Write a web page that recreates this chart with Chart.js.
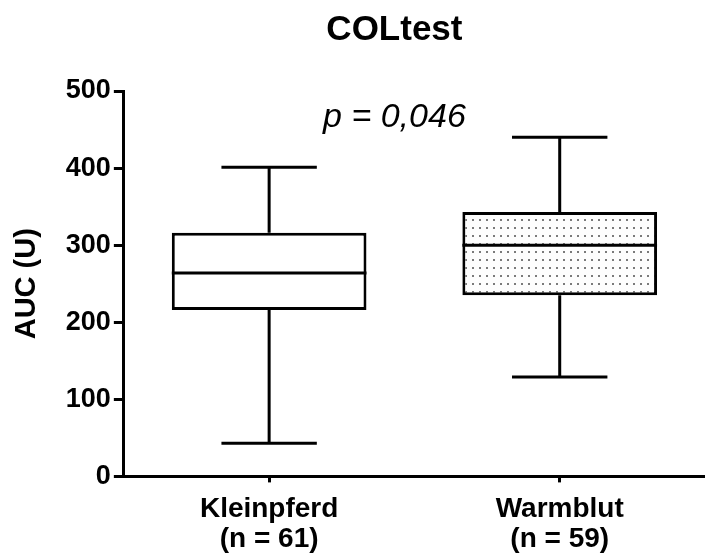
<!DOCTYPE html>
<html>
<head>
<meta charset="utf-8">
<script src="https://cdn.jsdelivr.net/npm/chart.js@4.4.0/dist/chart.umd.min.js"></script>
<style>
body { margin: 0; background: #fff; }
#wrap { width: 705px; height: 559px; }
</style>
</head>
<body>
<div id="wrap"><canvas id="myChart"></canvas></div>
<script>
const categories = [['Kleinpferd', '(n = 61)'], ['Warmblut', '(n = 59)']];
const minValues = [43, 129];
const q1Values = [216, 235];
const medianValues = [264, 300];
const q3Values = [316, 343];
const maxValues = [401, 440];
const yTicks = [0, 100, 200, 300, 400, 500];
const chartTitle = 'COLtest';
const pText = 'p = 0,046';

const FONT = "'Liberation Sans', Arial, sans-serif";

// dotted fill for the second box
function dotPattern() {
    const c = document.createElement('canvas');
    c.width = 7;
    c.height = 8;
    const g = c.getContext('2d');
    g.fillStyle = '#fdfdfd';
    g.fillRect(0, 0, 7, 8);
    g.fillStyle = '#7a7a7a';
    g.fillRect(3, 3, 2, 2);
    return g.createPattern(c, 'repeat');
}

const boxPlugin = {
    id: 'boxParts',
    afterDatasetsDraw(chart) {
        const ctx = chart.ctx;
        const y = chart.scales.y;
        const meta = chart.getDatasetMeta(0);
        ctx.save();
        ctx.strokeStyle = '#000';
        ctx.lineWidth = 3;
        meta.data.forEach(function(bar, i) {
            const x = bar.x;
            const half = bar.width / 2;
            const cap = bar.width * 0.245;
            const yMin = y.getPixelForValue(minValues[i]);
            const yQ1 = y.getPixelForValue(q1Values[i]);
            const yMed = y.getPixelForValue(medianValues[i]);
            const yQ3 = y.getPixelForValue(q3Values[i]);
            const yMax = y.getPixelForValue(maxValues[i]);
            ctx.beginPath();
            // median
            ctx.moveTo(x - half, yMed);
            ctx.lineTo(x + half, yMed);
            // whiskers
            ctx.moveTo(x, yQ3);
            ctx.lineTo(x, yMax);
            ctx.moveTo(x - cap, yMax);
            ctx.lineTo(x + cap, yMax);
            ctx.moveTo(x, yQ1);
            ctx.lineTo(x, yMin);
            ctx.moveTo(x - cap, yMin);
            ctx.lineTo(x + cap, yMin);
            ctx.stroke();
        });
        ctx.restore();
    },
    afterDraw(chart) {
        const ctx = chart.ctx;
        const xs = chart.scales.x;
        const mid = (xs.getPixelForValue(0) + xs.getPixelForValue(1)) / 2 - 20;
        ctx.save();
        ctx.fillStyle = '#000';
        ctx.textAlign = 'center';
        ctx.textBaseline = 'middle';
        ctx.font = 'bold 35px ' + FONT;
        ctx.fillText(chartTitle, mid, 30);
        ctx.font = 'italic 34px ' + FONT;
        ctx.fillText(pText, mid, chart.scales.y.getPixelForValue(466));
        ctx.restore();
    }
};

const ctx = document.getElementById('myChart').getContext('2d');
const myChart = new Chart(ctx, {
    type: 'bar',
    data: {
        labels: categories,
        datasets: [{
            data: q1Values.map(function(v, i) { return [v, q3Values[i]]; }),
            backgroundColor: ['#fff', dotPattern()],
            borderColor: '#000',
            borderWidth: 3,
            borderSkipped: false,
            categoryPercentage: 1,
            barPercentage: 0.67
        }]
    },
    options: {
        responsive: true,
        maintainAspectRatio: false,
        animation: false,
        layout: { padding: { top: 91, right: 0, bottom: -7, left: 10 } },
        plugins: {
            legend: { display: false },
            tooltip: { enabled: false }
        },
        scales: {
            x: {
                grid: { offset: false, drawOnChartArea: false, color: '#000', lineWidth: 3, tickLength: 6 },
                border: { color: '#000', width: 3 },
                ticks: { color: '#000', padding: 11, font: { family: FONT, size: 28, weight: 'bold', lineHeight: 1.1 } }
            },
            y: {
                min: 0,
                max: 500,
                afterBuildTicks: function(axis) {
                    axis.ticks = yTicks.map(function(v) { return { value: v }; });
                },
                grid: { drawOnChartArea: false, color: '#000', lineWidth: 3, tickLength: 10 },
                border: { color: '#000', width: 3 },
                ticks: { color: '#000', padding: 3, font: { family: FONT, size: 27, weight: 'bold' } },
                title: { display: true, text: 'AUC (U)', color: '#000', padding: { top: 0, bottom: 18 }, font: { family: FONT, size: 29, weight: 'bold' } }
            }
        }
    },
    plugins: [boxPlugin]
});
</script>
</body>
</html>
